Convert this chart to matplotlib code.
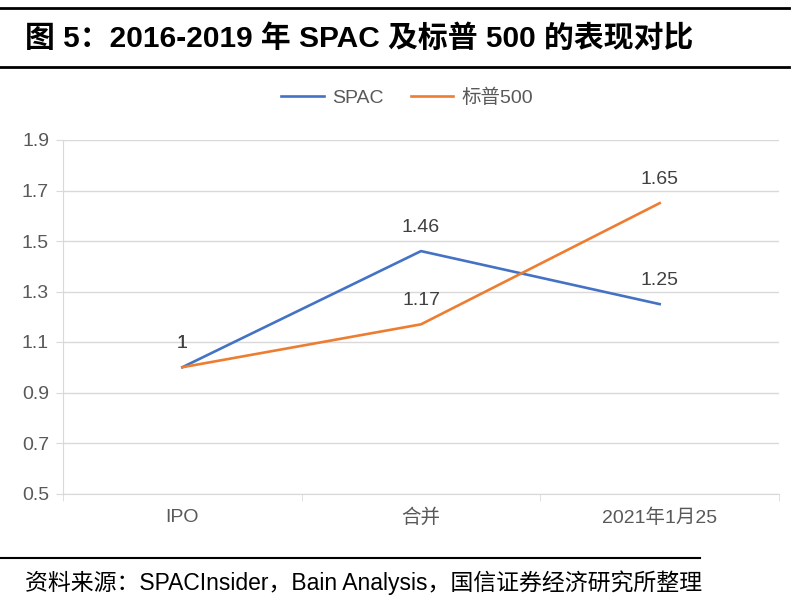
import matplotlib.pyplot as plt
from matplotlib.lines import Line2D

plt.rcParams['font.family'] = ['Liberation Sans', 'Noto Sans CJK SC', 'DejaVu Sans']

# data
categories = ['IPO', '合并', '2021年1月25']
spac = [1.0, 1.46, 1.25]
sp500 = [1.0, 1.17, 1.65]
spac_labels = ['1', '1.46', '1.25']
sp500_labels = ['1', '1.17', '1.65']
yticks = [0.5, 0.7, 0.9, 1.1, 1.3, 1.5, 1.7, 1.9]

W, H = 806, 616
fig = plt.figure(figsize=(W / 100, H / 100), dpi=100)
ax = fig.add_axes([63 / W, 1 - 493.5 / H, 716 / W, 353.5 / H])

x = list(range(len(categories)))
blue = '#4472C4'
orange = '#ED7D31'
gray = '#595959'
light = '#D9D9D9'

ax.plot(x, spac, color=blue, lw=1.9, label='SPAC')
ax.plot(x, sp500, color=orange, lw=1.9, label='标普500')

for xi, v, t in zip(x, spac, spac_labels):
    ax.annotate(t, (xi, v), xytext=(0, 11), textcoords='offset points',
                ha='center', va='bottom', fontsize=14, color='#404040')
for xi, v, t in zip(x, sp500, sp500_labels):
    ax.annotate(t, (xi, v), xytext=(0, 11), textcoords='offset points',
                ha='center', va='bottom', fontsize=14, color='#404040')

ax.set_xlim(-0.5, 2.5)
ax.set_ylim(0.5, 1.9)
ax.set_yticks(yticks)
ax.set_yticklabels(['%.1f' % v for v in yticks])
ax.grid(axis='y', color=light, lw=1)
ax.set_axisbelow(True)

ax.set_xticks(x)
ax.set_xticklabels(categories)
ax.set_xticks([-0.5, 0.5, 1.5, 2.5], minor=True)
ax.tick_params(axis='x', which='major', length=0, pad=11, labelsize=14, labelcolor=gray)
ax.tick_params(axis='x', which='minor', length=5, color=light)
ax.tick_params(axis='y', length=5, color=light, pad=5, labelsize=14, labelcolor=gray)

for s in ['top', 'right']:
    ax.spines[s].set_visible(False)
ax.spines['bottom'].set_color(light)
ax.spines['left'].set_color(light)

fig.legend(loc='center', bbox_to_anchor=(407 / W, 1 - 98 / H), ncol=2,
           frameon=False, fontsize=14, handlelength=2.2, columnspacing=1.4,
           handletextpad=0.4, labelcolor=gray)

# header / footer
fig.add_artist(Line2D([0, 789 / W], [1 - 8 / H, 1 - 8 / H], color='black', lw=2))
fig.add_artist(Line2D([0, 789 / W], [1 - 67 / H, 1 - 67 / H], color='black', lw=2))
fig.text(25 / W, 1 - 39 / H, '图 5：2016-2019 年 SPAC 及标普 500 的表现对比',
         fontsize=21.5, fontweight='bold', va='center', ha='left')
fig.add_artist(Line2D([0, 700 / W], [1 - 558 / H, 1 - 558 / H], color='black', lw=1.5))
fig.text(25 / W, 1 - 583 / H, '资料来源：SPACInsider，Bain Analysis，国信证券经济研究所整理',
         fontsize=16.5, va='center', ha='left')

fig.savefig('out.png', dpi=100)
